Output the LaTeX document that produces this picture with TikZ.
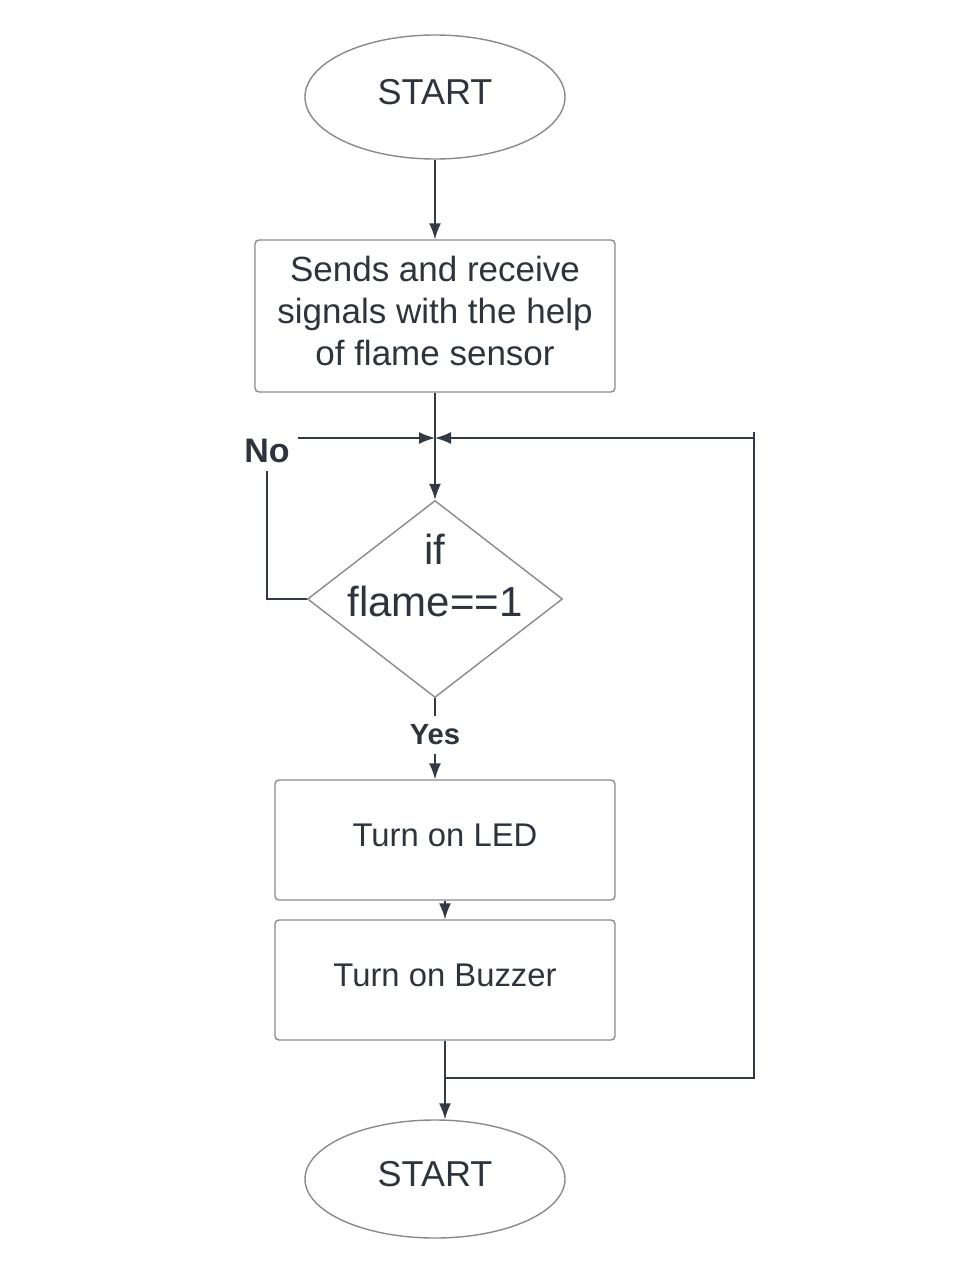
\documentclass[tikz,border=0pt]{standalone}
\usepackage{fontspec}
\setmainfont{Liberation Sans}
\usetikzlibrary{shapes.geometric,arrows.meta,positioning,calc}
\definecolor{lineclr}{HTML}{343A44}
\definecolor{edgeclr}{HTML}{8A8A8A}
\definecolor{txtclr}{HTML}{2F343C}
\tikzset{
  termnode/.style={ellipse, draw=edgeclr, line width=0.7pt, minimum width=130pt, minimum height=62pt, inner sep=0pt, text depth=5pt, text=txtclr, font=\fontsize{18}{21}\selectfont},
  pblock/.style={rectangle, rounded corners=2pt, draw=edgeclr, line width=0.7pt, align=center, inner sep=0pt, text depth=5pt, text=txtclr, font=\fontsize{16.4}{21}\selectfont},
  dblock/.style={diamond, draw=edgeclr, line width=0.7pt, minimum width=127.5pt, minimum height=98.5pt, inner sep=0pt},
  parrow/.style={-{Latex[length=8pt,width=6pt]}, line width=0.75pt, lineclr},
  pline/.style={line width=0.75pt, lineclr},
  lbl/.style={text=txtclr, inner sep=4pt, font=\bfseries\fontsize{17}{20}\selectfont}
}
\begin{document}
\begin{tikzpicture}[x=0.5pt,y=-0.5pt]
  \useasboundingbox (0,0) rectangle (961,1280);
  % blocks
  \node[termnode] (startnode) at (435,97) {START};
  \node[pblock, minimum width=180pt, minimum height=76pt, font=\fontsize{17.5}{21}\selectfont] (sensebox) at (435,316) {Sends and receive\\signals with the help\\of flame sensor};
  \coordinate (merge) at (435,438);
  \node[dblock] (flamecheck) at (435,599) {};
  \node[text=txtclr, align=center, font=\fontsize{21}{26}\selectfont] (flametext) at (435,575) {if\\flame==1};
  \node[lbl] (nolbl) at (267,451) {No};
  \node[lbl, font=\bfseries\fontsize{14.6}{18}\selectfont] (yeslbl) at (435,735) {Yes};
  \node[pblock, minimum width=170pt, minimum height=60pt] (ledbox) at (445,840) {Turn on LED};
  \node[pblock, minimum width=170pt, minimum height=60pt] (buzzerbox) at (445,980) {Turn on Buzzer};
  \node[termnode, minimum height=59pt] (endnode) at (435,1179) {START};
  \coordinate (loopbot) at (754,1078);
  \coordinate (looptop) at (754,438);
  % connectors
  \draw[parrow] (startnode) -- (sensebox);
  \draw[parrow] (sensebox) -- (flamecheck.north);
  \draw[pline] (flamecheck.west) -| (nolbl.south);
  \draw[parrow] (nolbl.east |- merge) -- (merge);
  \draw[pline] (flamecheck.south) -- (yeslbl.north);
  \draw[parrow] (yeslbl.south) -- (yeslbl.south |- ledbox.north);
  \draw[parrow] (ledbox) -- (buzzerbox);
  \draw[parrow] (buzzerbox.south) -- (buzzerbox.south |- endnode.north);
  \draw[pline] (buzzerbox.south |- loopbot) -- (loopbot) -- ([yshift=3pt]looptop);
  \draw[parrow] (looptop) -- (merge);
\end{tikzpicture}
\end{document}
